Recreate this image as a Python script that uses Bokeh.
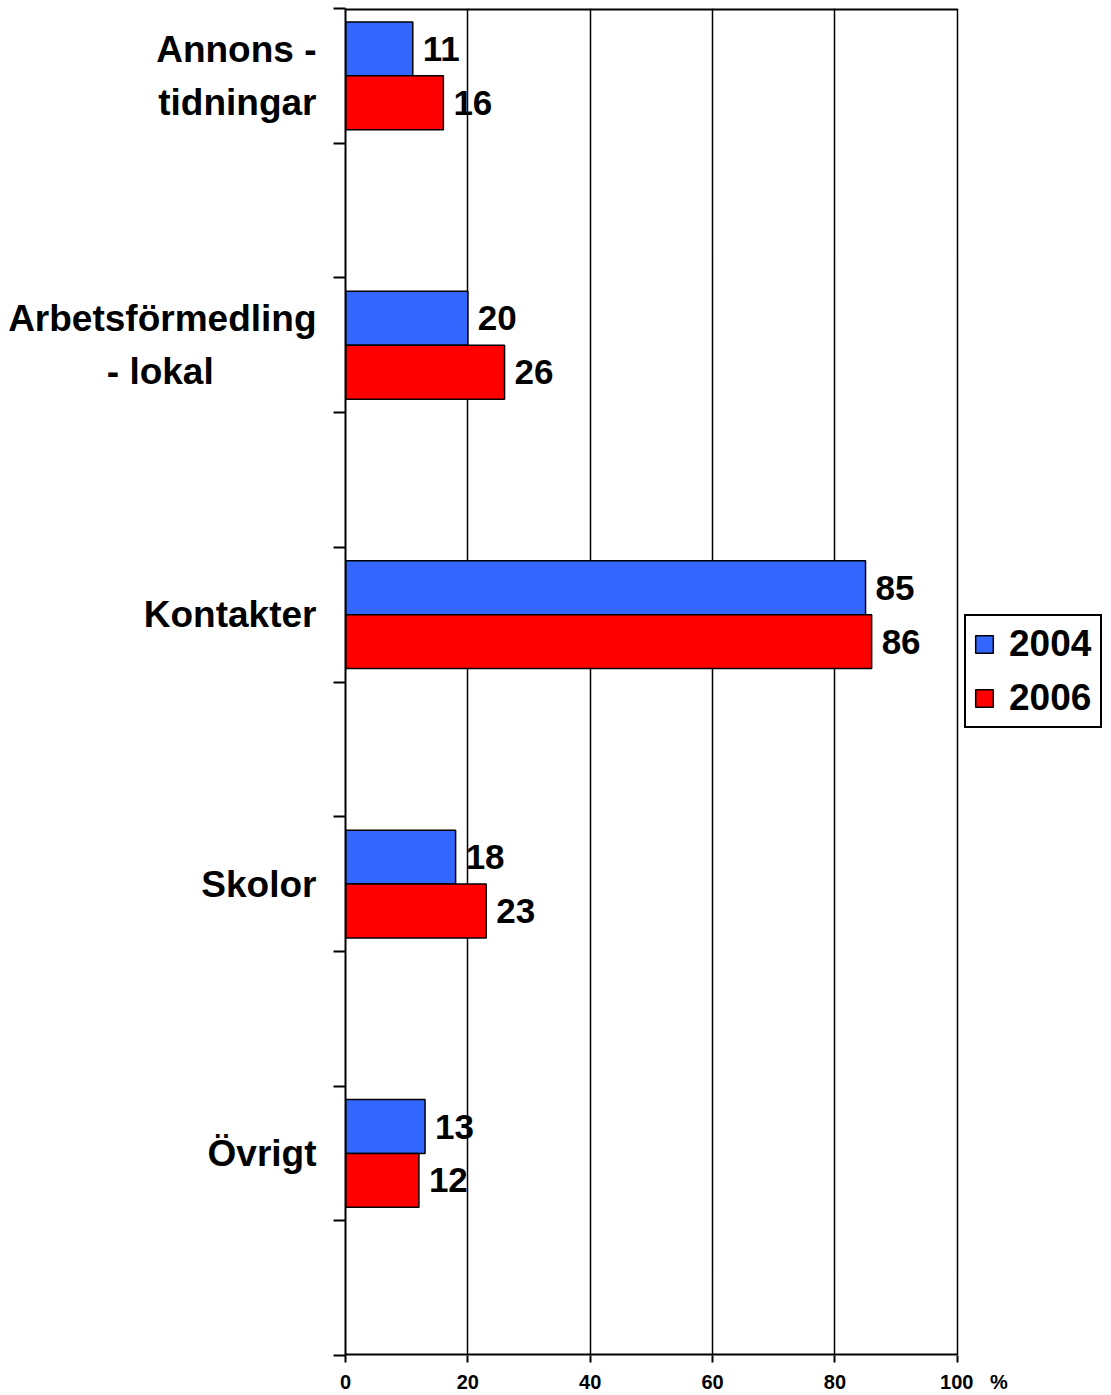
import pandas as pd
from bokeh.plotting import figure
from bokeh.models import (Range1d, FixedTicker, LabelSet, Legend,
                          LegendItem, ColumnDataSource)
from bokeh.core.properties import value
from bokeh.embed import file_html
from bokeh.resources import INLINE

categories = ["Annons -\ntidningar", "Arbetsförmedling\n- lokal", "Kontakter", "Skolor", "Övrigt"]
years = ["2004", "2006"]
values_2004 = [11, 20, 85, 18, 13]
values_2006 = [16, 26, 86, 23, 12]
x_ticks = [0, 20, 40, 60, 80, 100]
x_unit = "%"
colors = {"2004": "#3366FF", "2006": "#FF0000"}

FONT = "Liberation Sans"
NB = "\u00a0"
n = len(categories)
centers = [4 * i + 1 for i in range(n)]
boundaries = list(range(0, 4 * n + 1, 2))
x_min, x_max = x_ticks[0], x_ticks[-1]
y_top, y_bottom = 0, 4 * n


def centre_lines(label, pad):
    # left axis labels are right-aligned per line; pad the short 2nd line so lines look centred
    lines = label.split("\n")
    if len(lines) == 2 and pad:
        lines[1] = lines[1] + NB * pad
    return "\n".join(lines)


label_pads = [0, 10, 0, 0, 0]

# frame extends to the right edge so that the legend fits inside it;
# the plotting area itself is 0..100 (borders drawn below)
p = figure(width=1111, height=1395, output_backend="svg", toolbar_location=None,
           x_range=Range1d(x_min, 125.2), y_range=Range1d(y_bottom, y_top),
           min_border_left=345, min_border_right=0, min_border_top=8,
           min_border_bottom=38)

renderers = {}
for yr, vals, off in [("2004", values_2004, -0.4), ("2006", values_2006, 0.4)]:
    src = ColumnDataSource(dict(y=[c + off for c in centers], v=vals,
                                label=[str(v) for v in vals]))
    r = p.hbar(y="y", left=0, right="v", height=0.8, source=src,
               fill_color=colors[yr], line_color="black", line_width=1.5)
    renderers[yr] = r
    p.add_layout(LabelSet(x="v", y="y", text="label", source=src, x_offset=10,
                          text_baseline="middle", text_font=value(FONT),
                          text_font_style="bold", text_font_size="35px",
                          text_color="black"))

# plot-area border: top and bottom edges from 0 to 100 (right edge is the grid line at 100)
p.segment(x0=[x_min, x_min], x1=[x_max, x_max], y0=[y_top, y_bottom], y1=[y_top, y_bottom],
          line_color="black", line_width=4)

# y axis
ya = p.yaxis[0]
ya.ticker = FixedTicker(ticks=centers, minor_ticks=boundaries)
ya.major_label_overrides = {c: centre_lines(lab, pd_)
                            for c, lab, pd_ in zip(centers, categories, label_pads)}
ya.major_tick_out = 0
ya.major_tick_in = 0
ya.minor_tick_out = 12
ya.minor_tick_in = 0
ya.minor_tick_line_color = "black"
ya.minor_tick_line_width = 2
ya.axis_line_color = "black"
ya.axis_line_width = 2
ya.major_label_standoff = 17
ya.major_label_text_font = FONT
ya.major_label_text_font_style = "bold"
ya.major_label_text_font_size = "37px"
ya.major_label_text_color = "black"
ya.major_label_text_line_height = 1.3

# x axis
xa = p.xaxis[0]
xa.ticker = FixedTicker(ticks=x_ticks, minor_ticks=[])
xa.major_label_overrides = {x_max: NB * 6 + str(x_max) + NB * 3 + x_unit}
xa.major_tick_out = 7
xa.major_tick_in = 0
xa.major_tick_line_color = "black"
xa.major_tick_line_width = 2
xa.axis_line_color = None
xa.major_label_standoff = 8
xa.major_label_text_font = FONT
xa.major_label_text_font_style = "bold"
xa.major_label_text_font_size = "20px"
xa.major_label_text_color = "black"

p.ygrid.grid_line_color = None
p.xgrid.grid_line_color = "black"
p.xgrid.grid_line_width = 1.5
p.outline_line_color = None

legend = Legend(items=[LegendItem(label=yr, renderers=[renderers[yr]]) for yr in years],
                location=(619, 627), label_text_font=FONT, label_text_font_style="bold",
                label_text_font_size="37px", label_text_color="black",
                glyph_width=22, glyph_height=22, label_width=84,
                label_height=40, padding=7, spacing=12, label_standoff=14, margin=0,
                border_line_color="black", border_line_width=2, border_line_alpha=1,
                background_fill_alpha=1)
p.add_layout(legend, "center")

open("out.html", "w").write(file_html(p, INLINE))
